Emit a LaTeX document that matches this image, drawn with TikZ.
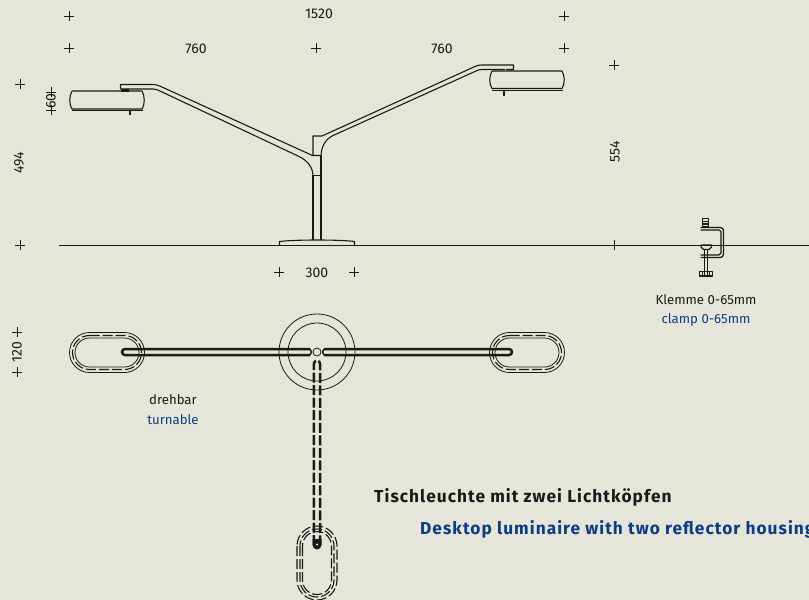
\documentclass[tikz,border=0pt]{standalone}
\usepackage{fontspec}
\setmainfont{Fira Sans}
\definecolor{paper}{HTML}{E5E5DA}
\definecolor{ink}{HTML}{1A1A1A}
\definecolor{navy}{HTML}{0E3C84}
\tikzset{
  dim/.style={font=\fontsize{14}{16}\selectfont,text=ink,inner sep=0pt},
  vdim/.style={dim,rotate=90},
  label de/.style={font=\fontsize{13.2}{15}\selectfont,text=ink,inner sep=0pt},
  label en/.style={font=\fontsize{13.2}{15}\selectfont,text=navy,inner sep=0pt},
  title/.style={font=\fontsize{17.3}{19}\selectfont\bfseries\addfontfeature{LetterSpace=6},inner sep=0pt,anchor=west},
  thin ink/.style={draw=ink,line width=0.8pt},
  part/.style={draw=ink,line width=1.1pt,line join=round},
  heavy/.style={draw=ink,line width=1.7pt},
  crosshair/.style={draw=ink,line width=0.7pt},
  loopdash/.style={draw=ink,line width=1.1pt,dash pattern=on 10pt off 3pt},
  bardash/.style={draw=ink,line width=2.5pt,dash pattern=on 10pt off 2.5pt}
}
\begin{document}
\begin{tikzpicture}[x=1pt,y=-1pt]
\useasboundingbox (0,0) rectangle (809,600);
\clip (0,0) rectangle (809,600);
\fill[paper] (0,0) rectangle (809,600);
% registration crosses
\foreach \p in {(69,16),(564,16),(69,48),(316,48),(564,48),(614,65),(20,84),(20,245),(614,245),(279,272),(354,272),(17,332),(17,372),(51,92),(51,110)}
  \draw[crosshair] \p ++(-5,0) -- ++(10,0) \p ++(0,-5) -- ++(0,10);
% ground line
\draw[thin ink] (59,245) -- (809,245);
% left head
\draw[part] (72,91) -- (142,91) .. controls (145,96) and (145,105) .. (142,109) -- (72,109) .. controls (69,105) and (69,96) .. (72,91);
\draw[part] (72,110.5) -- (143,110.5);
\draw[ink!70,line width=1.6pt] (72,91) -- (142,91);
\draw[heavy] (130,110) -- (130,115);
\fill[ink] (121,89) rectangle (129,91.5);
% arms and post
\draw[part] (120.5,89) -- (120.5,84.5) -- (152,84.5) .. controls (156,84.5) and (159,85.5) .. (163,87.5) -- (312.5,155.5) -- (321,155.5);
\draw[part] (120.5,89) -- (153,89) .. controls (156,89) and (158,90) .. (161,91.5) -- (298,156) .. controls (307,160) and (313,167) .. (313,176);
\draw[part] (313,155.5) -- (313,136) -- (322,136) -- (475,66.5) .. controls (477,65.5) and (479,65) .. (482,65) -- (513.5,65) -- (513.5,69.5) -- (506,69.5);
\draw[part] (505,69.5) -- (482,69.5) .. controls (480,69.5) and (478,70) .. (476,71) -- (332,136) .. controls (325,140) and (321,147) .. (321,157);
\draw[part] (313,175.5) -- (321,175.5);
\draw[part] (313,175) -- (313,240);
\draw[part] (321,155) -- (321,240);
% base
\draw[part] (279.5,245) -- (279.5,241.5) .. controls (295,239.5) and (340,239.5) .. (354.5,241.5) -- (354.5,245);
% right head
\draw[part] (492,71) -- (562,71) .. controls (565,76) and (565,84) .. (562,88.5) -- (492,88.5) .. controls (489,84) and (489,76) .. (492,71);
\draw[part] (492,90.5) -- (563,90.5);
\draw[heavy] (504,91) -- (504,96);
% clamp
\draw[part] (702.5,218.5) rectangle (708.5,227);
\draw[part] (702.5,221.5) -- (708.5,221.5) (702.5,224) -- (708.5,224);
\draw[part,line width=1.3pt] (700.5,227.5) -- (720.5,227.5) .. controls (722,227.5) and (723.5,229) .. (723.5,230.5) -- (723.5,254) .. controls (723.5,256) and (722,257.5) .. (720.5,257.5) -- (700.5,257.5);
\draw[part] (700.5,230) -- (719,230) -- (721,231.5) -- (721,253) -- (719,255) -- (700.5,255);
\draw[part] (701,245) -- (711.5,245) -- (711.5,247) -- (709,249.5) -- (703.5,249.5) -- (701,247) -- cycle;
\draw[part] (704.5,250) -- (704.5,271) (707.5,250) -- (707.5,271);
\draw[part] (699.5,271.5) rectangle (712.5,276);
\draw[ink,line width=0.9pt] (702,272) -- (702,276) (704.5,272) -- (704.5,276) (707,272) -- (707,276) (709.5,272) -- (709.5,276);
% top view: left loop
\draw[thin ink] (89.5,332.5) -- ++(35,0) arc[start angle=-90,end angle=90,radius=20] -- ++(-35,0) arc[start angle=90,end angle=270,radius=20];
\draw[loopdash] (89.5,335.5) -- ++(35,0) arc[start angle=-90,end angle=90,radius=17] -- ++(-35,0) arc[start angle=90,end angle=270,radius=17];
\draw[thin ink] (89.5,338) -- ++(35,0) arc[start angle=-90,end angle=90,radius=14.5] -- ++(-35,0) arc[start angle=90,end angle=270,radius=14.5];
% top view: right loop
\draw[thin ink] (509.5,332.5) -- ++(35,0) arc[start angle=-90,end angle=90,radius=20] -- ++(-35,0) arc[start angle=90,end angle=270,radius=20];
\draw[loopdash] (509.5,335.5) -- ++(35,0) arc[start angle=-90,end angle=90,radius=17] -- ++(-35,0) arc[start angle=90,end angle=270,radius=17];
\draw[thin ink] (509.5,338) -- ++(35,0) arc[start angle=-90,end angle=90,radius=14.5] -- ++(-35,0) arc[start angle=90,end angle=270,radius=14.5];
% top view: lower loop
\draw[loopdash] (297,546) -- ++(0,34) arc[start angle=180,end angle=0,radius=20] -- ++(0,-34) arc[start angle=0,end angle=-180,radius=20];
\draw[loopdash] (300,546) -- ++(0,34) arc[start angle=180,end angle=0,radius=17] -- ++(0,-34) arc[start angle=0,end angle=-180,radius=17];
\draw[loopdash] (302.5,546) -- ++(0,34) arc[start angle=180,end angle=0,radius=14.5] -- ++(0,-34) arc[start angle=0,end angle=-180,radius=14.5];
% base rings
\draw[thin ink] (317,352) circle[radius=38];
\draw[thin ink] (317,352) circle[radius=29];
\draw[thin ink] (317,352) circle[radius=4];
% horizontal arms
\draw[heavy,line width=2.5pt] (310,349) -- (125,349) arc[start angle=270,end angle=90,radius=3] -- (310,355);
\draw[heavy,line width=2.5pt] (324,349) -- (509,349) arc[start angle=-90,end angle=90,radius=3] -- (324,355);
\draw[ink,line width=1.4pt] (310,349) .. controls (312,351) and (312,353) .. (310,355);
\draw[ink,line width=1.4pt] (324,349) .. controls (322,351) and (322,353) .. (324,355);
% vertical arm (hidden)
\draw[bardash] (313.8,545) -- (313.8,366) .. controls (313.8,362) and (315,360.5) .. (317,360.5) .. controls (319,360.5) and (320.2,362) .. (320.2,366) -- (320.2,545);
\fill[ink] (312.5,539) -- (321.5,539) -- (321.5,545) arc[start angle=0,end angle=180,radius=4.5] -- cycle;
\fill[paper] (317,544.5) circle[radius=1.2];
% dimension labels
\node[dim] (d1520) at (319,14) {1520};
\node[dim] (d760l) at (196,49) {760};
\node[dim] (d760r) at (442,49) {760};
\node[vdim] (d60) at (51,101) {60};
\node[vdim] (d494) at (19,163) {494};
\node[vdim] (d554) at (615,152) {554};
\node[dim] (d300) at (317,273) {300};
\node[vdim] (d120) at (17,352) {120};
% captions
\node[label de] (klemme) at (706,300) {Klemme 0-65mm};
\node[label en] (clamp) at (706,320) {clamp 0-65mm};
\node[label de] (drehbar) at (173,400) {drehbar};
\node[label en] (turnable) at (173,420) {turnable};
\node[title,text=ink] (titlede) at (374,497.5) {Tischleuchte mit zwei Lichtköpfen};
\node[title,text=navy] (titleen) at (420,529.5) {Desktop luminaire with two reflector housings};
\end{tikzpicture}
\end{document}
